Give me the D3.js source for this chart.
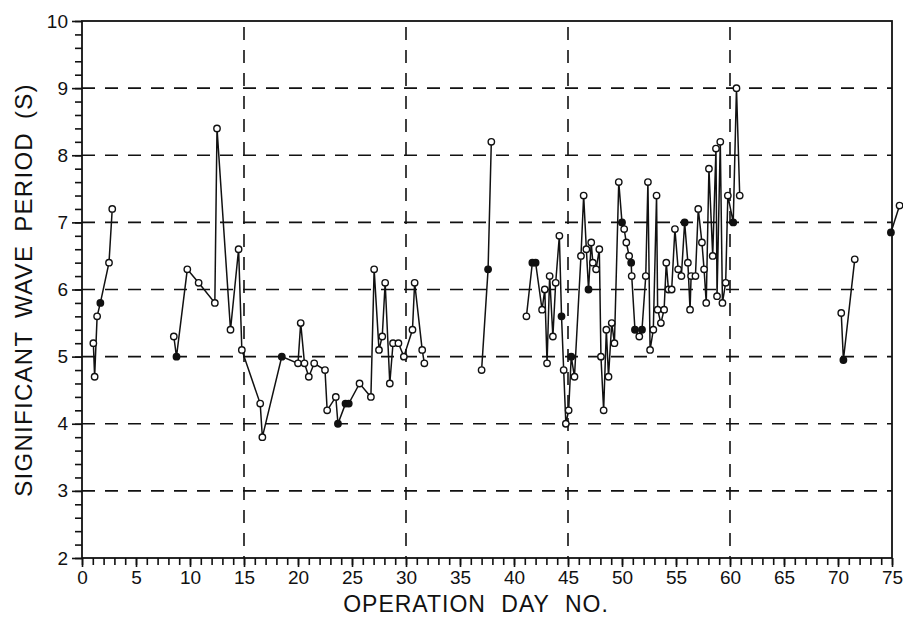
<!DOCTYPE html>
<html>
<head>
<meta charset="utf-8">
<script src="https://cdn.jsdelivr.net/npm/d3@7"></script>
<style>
  body { margin: 0; background: #fff; }
  svg text { font-family: "Liberation Sans", Arial, sans-serif; fill: #111; }
  .axis path, .axis line { stroke: #111; stroke-width: 1.6; }
  .grid line { stroke: #111; stroke-width: 1.6; stroke-dasharray: 13,10; }
</style>
</head>
<body>
<svg width="903" height="617"></svg>
<script>
// operation day of each wave reading
var dayNo = [
  1.05, 1.17, 1.4, 1.7, 2.5, 2.8,
  8.5, 8.75, 9.75, 10.8, 12.3, 12.5, 13.75, 14.5, 14.8, 16.5, 16.7, 18.5,
  20.0, 20.25, 20.6, 21.0, 21.5, 22.5, 22.7, 23.5, 23.7, 24.4, 24.7, 25.7,
  26.75, 27.05, 27.5, 27.8, 28.07, 28.5, 28.8, 29.3, 29.8, 30.6, 30.8, 31.5, 31.7,
  37.0, 37.6, 37.9,
  41.15, 41.7, 42.0, 42.6, 42.85, 43.06, 43.3, 43.6, 43.86, 44.2, 44.4, 44.6,
  44.8, 45.06, 45.3, 45.6, 46.2, 46.45, 46.7, 46.9, 47.15, 47.3, 47.6, 47.9,
  48.05, 48.3, 48.55, 48.75, 49.05, 49.3, 49.7, 50.0, 50.2, 50.4, 50.66, 50.85,
  50.9, 51.2, 51.6, 51.85, 52.2, 52.4, 52.6, 52.9, 53.2, 53.3, 53.6, 53.9,
  54.1, 54.3, 54.6, 54.9, 55.2, 55.5, 55.8, 56.1, 56.3, 56.4, 56.8, 57.06,
  57.4, 57.6, 57.8, 58.05, 58.4, 58.7, 58.8, 59.1, 59.3, 59.6, 59.8, 60.3,
  60.6, 60.9,
  70.3, 70.5, 71.55,
  74.9, 75.7
];

// significant wave period (s)
var period = [
  5.2, 4.7, 5.6, 5.8, 6.4, 7.2,
  5.3, 5.0, 6.3, 6.1, 5.8, 8.4, 5.4, 6.6, 5.1, 4.3, 3.8, 5.0,
  4.9, 5.5, 4.9, 4.7, 4.9, 4.8, 4.2, 4.4, 4.0, 4.3, 4.3, 4.6,
  4.4, 6.3, 5.1, 5.3, 6.1, 4.6, 5.2, 5.2, 5.0, 5.4, 6.1, 5.1, 4.9,
  4.8, 6.3, 8.2,
  5.6, 6.4, 6.4, 5.7, 6.0, 4.9, 6.2, 5.3, 6.1, 6.8, 5.6, 4.8,
  4.0, 4.2, 5.0, 4.7, 6.5, 7.4, 6.6, 6.0, 6.7, 6.4, 6.3, 6.6,
  5.0, 4.2, 5.4, 4.7, 5.5, 5.2, 7.6, 7.0, 6.9, 6.7, 6.5, 6.4,
  6.2, 5.4, 5.3, 5.4, 6.2, 7.6, 5.1, 5.4, 7.4, 5.7, 5.5, 5.7,
  6.4, 6.0, 6.0, 6.9, 6.3, 6.2, 7.0, 6.4, 5.7, 6.2, 6.2, 7.2,
  6.7, 6.3, 5.8, 7.8, 6.5, 8.1, 5.9, 8.2, 5.8, 6.1, 7.4, 7.0,
  9.0, 7.4,
  5.65, 4.95, 6.45,
  6.85, 7.25
];

// plotting symbol: 1 = solid dot, 0 = open circle
var solid = [
  0, 0, 0, 1, 0, 0,
  0, 1, 0, 0, 0, 0, 0, 0, 0, 0, 0, 1,
  0, 0, 0, 0, 0, 0, 0, 0, 1, 1, 1, 0,
  0, 0, 0, 0, 0, 0, 0, 0, 0, 0, 0, 0, 0,
  0, 1, 0,
  0, 1, 1, 0, 0, 0, 0, 0, 0, 0, 1, 0,
  0, 0, 1, 0, 0, 0, 0, 1, 0, 0, 0, 0,
  0, 0, 0, 0, 0, 0, 0, 1, 0, 0, 0, 1,
  0, 1, 0, 1, 0, 0, 0, 0, 0, 0, 0, 0,
  0, 0, 0, 0, 0, 0, 1, 0, 0, 0, 0, 0,
  0, 0, 0, 0, 0, 0, 0, 0, 0, 0, 0, 1,
  0, 0,
  0, 1, 0,
  1, 0
];

var xMajor = d3.range(0, 76, 5);
var yMajor = d3.range(2, 11, 1);
var xGrid = [15, 30, 45, 60];
var yGrid = [3, 4, 5, 6, 7, 8, 9];

var margin = {top: 21, right: 11, bottom: 59, left: 82},
    width = 903 - margin.left - margin.right,
    height = 617 - margin.top - margin.bottom;

var svg = d3.select("svg")
  .append("g")
  .attr("transform", "translate(" + margin.left + "," + margin.top + ")");

var x = d3.scaleLinear().domain([0, 75]).range([0, width]);
var y = d3.scaleLinear().domain([2, 10]).range([height, 0]);

// dashed grid
svg.append("g").attr("class", "grid")
  .selectAll("line").data(yGrid).enter().append("line")
  .attr("x1", 0).attr("x2", width)
  .attr("y1", function(d) { return y(d); })
  .attr("y2", function(d) { return y(d); });

svg.append("g").attr("class", "grid")
  .selectAll("line").data(xGrid).enter().append("line")
  .attr("y1", 6).attr("y2", height)
  .attr("x1", function(d) { return x(d); })
  .attr("x2", function(d) { return x(d); });

// minor ticks
svg.append("g").attr("class", "axis")
  .attr("transform", "translate(0," + height + ")")
  .call(d3.axisBottom(x).tickValues(d3.range(0, 76, 1)).tickSize(7).tickFormat(""));
svg.append("g").attr("class", "axis")
  .call(d3.axisLeft(y).tickValues(d3.range(2, 10.01, 0.2)).tickSize(7).tickFormat(""));

// major ticks with labels
svg.append("g").attr("class", "axis")
  .attr("transform", "translate(0," + height + ")")
  .call(d3.axisBottom(x).tickValues(xMajor).tickSize(9).tickPadding(4).tickFormat(d3.format("d")));
svg.append("g").attr("class", "axis")
  .call(d3.axisLeft(y).tickValues(yMajor).tickSize(10).tickPadding(4).tickFormat(d3.format("d")));

svg.selectAll(".axis text").style("font-size", "19px");
svg.selectAll(".axis .domain").remove();

// frame
svg.append("rect")
  .attr("width", width).attr("height", height)
  .attr("fill", "none").attr("stroke", "#111").attr("stroke-width", 1.8);

// split the readings into runs where the record breaks
var pts = dayNo.map(function(d, i) { return {day: d, per: period[i], solid: solid[i]}; });
var runs = [];
pts.forEach(function(p, i) {
  if (i === 0 || p.day - pts[i - 1].day > 2.5) runs.push([]);
  runs[runs.length - 1].push(p);
});

var line = d3.line()
  .x(function(d) { return x(d.day); })
  .y(function(d) { return y(d.per); });

svg.append("g").selectAll("path").data(runs).enter().append("path")
  .attr("d", line)
  .attr("fill", "none")
  .attr("stroke", "#111")
  .attr("stroke-width", 1.5);

svg.append("g").selectAll("circle").data(pts).enter().append("circle")
  .attr("cx", function(d) { return x(d.day); })
  .attr("cy", function(d) { return y(d.per); })
  .attr("r", 3.2)
  .attr("fill", function(d) { return d.solid ? "#111" : "#fff"; })
  .attr("stroke", "#111")
  .attr("stroke-width", 1.4);

// axis titles
svg.append("text")
  .attr("x", width / 2 - 11)
  .attr("y", height + 54)
  .attr("text-anchor", "middle")
  .style("font-size", "23px")
  .style("letter-spacing", "1px")
  .style("word-spacing", "8px")
  .text("OPERATION DAY NO.");

svg.append("text")
  .attr("transform", "translate(" + (32 - margin.left) + "," + (290 - margin.top) + ") rotate(-90)")
  .attr("text-anchor", "middle")
  .style("font-size", "24px")
  .style("letter-spacing", "1.3px")
  .style("word-spacing", "5px")
  .text("SIGNIFICANT WAVE PERIOD (S)");
</script>
</body>
</html>
